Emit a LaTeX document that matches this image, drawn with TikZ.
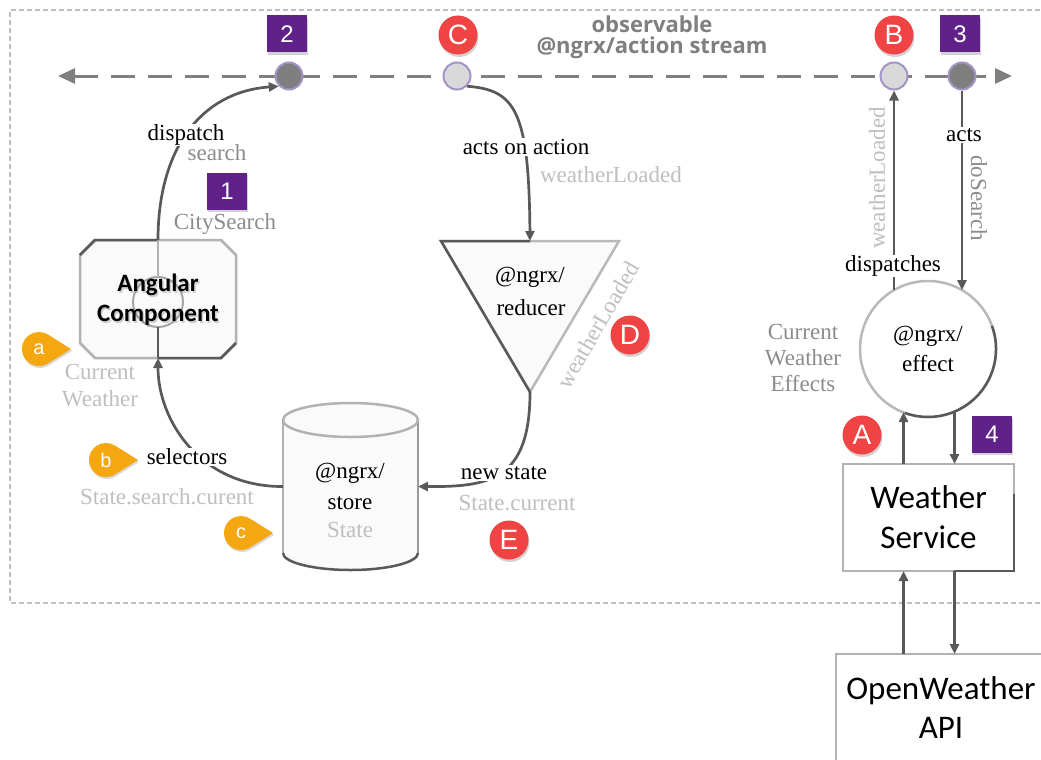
\documentclass[tikz,border=0pt]{standalone}
\usepackage{fontspec}
\setmainfont{Liberation Serif}
\newfontfamily\carlito{Carlito}
\newfontfamily\osans{Open Sans}
\newfontfamily\asans{Liberation Sans}
\usetikzlibrary{arrows.meta,shadows,calc}
\definecolor{purp}{HTML}{61218A}
\definecolor{redb}{HTML}{F04343}
\definecolor{yel}{HTML}{F4A70F}
\definecolor{ln}{HTML}{595959}
\definecolor{strm}{HTML}{7F7F7F}
\definecolor{lg}{HTML}{BFBFBF}
\definecolor{mg}{HTML}{8C8C8C}
\definecolor{ring}{HTML}{A393C6}
\definecolor{evlight}{HTML}{D9D9D9}
\definecolor{boxfill}{HTML}{FAFAFA}
\newcommand\mytear[4]{%
  \fill[yel, drop shadow={opacity=0.3,shadow xshift=1pt,shadow yshift=-2pt}] ($(#2,#3)+(56:17)$) arc[start angle=56,end angle=304,radius=17] -- (#2+32,#3) -- cycle;
  \node[font=\asans\fontsize{20}{20}\selectfont, text=white] (#1) at (#2,#3) {#4};}
\begin{document}
\begin{tikzpicture}[x=1pt,y=-1pt,
  conn/.style={draw=ln, line width=2.7pt, -{Triangle[length=10pt,width=9pt]}},
  lbl/.style={font=\fontsize{23}{27}\selectfont, inner sep=1pt},
  wlbl/.style={lbl, fill=white},
  shad/.style={drop shadow={opacity=0.35,shadow xshift=1pt,shadow yshift=-2.5pt}},
  badge/.style={fill=purp, text=white, minimum width=40pt, minimum height=37pt, inner sep=0pt, font=\asans\fontsize{24}{24}\selectfont, shad},
  redc/.style={circle, fill=redb, text=white, minimum size=39pt, inner sep=0pt, font=\asans\fontsize{28}{28}\selectfont, shad},
  evt/.style={circle, draw=ring, line width=2pt, minimum size=27pt, inner sep=0pt},
  outl/.style={draw=gray!60, line width=2.5pt, outer sep=0pt},
]
\useasboundingbox (0,0) rectangle (1041,760);
\fill[white] (0,0) rectangle (1041,760);
% outer dashed border
\draw[lg, line width=1.8pt, dash pattern=on 5pt off 3pt] (1080,10) -- (10,10) -- (10,603) -- (1080,603);
% action stream
\draw[strm, line width=3pt, dash pattern=on 24pt off 13pt, {Triangle[length=17pt,width=15pt]}-{Triangle[length=17pt,width=15pt]}] (58,76) -- (1012,76);
\node[font=\osans\bfseries\fontsize{22}{21}\selectfont, text=strm, align=center] (title) at (652,37) {observable\\@ngrx/action stream};
\node[evt, fill=strm] (s2) at (289,76) {};
\node[evt, fill=evlight] (sC) at (457,76) {};
\node[evt, fill=evlight] (sB) at (894,76) {};
\node[evt, fill=strm] (s3) at (962,76) {};

% Angular component
\node[minimum width=156pt, minimum height=118pt, inner sep=0pt, outer sep=0pt] (ang) at (158,299) {};
\filldraw[fill=boxfill, outl] ($(ang.north west)+(15,0)$) -- ($(ang.north east)+(-15,0)$) -- ($(ang.north east)+(0,15)$) -- ($(ang.south east)+(0,-15)$) -- ($(ang.south east)+(-15,0)$) -- ($(ang.south west)+(15,0)$) -- ($(ang.south west)+(0,-15)$) -- ($(ang.north west)+(0,15)$) -- cycle;
\draw[ln, line width=2.5pt] ($(ang.north west)+(0,15)$) -- ($(ang.north west)+(15,0)$) -- (ang.north);
\draw[ln, line width=2.5pt] (ang.south) -- ($(ang.south east)+(-15,0)$) -- ($(ang.south east)+(0,-15)$);
\draw[gray!70, line width=2pt] (158,302) circle[radius=25];
\draw[gray!60, line width=2.5pt] (ang.north) -- (158,277);
\draw[ln, line width=2.5pt] (158,327) -- (ang.south);
\node[font=\carlito\bfseries\fontsize{25}{30}\selectfont, align=center, text=gray, opacity=0.35] (angsh) at (159.5,302) {Angular\\Component};
\node[font=\carlito\bfseries\fontsize{25}{30}\selectfont, align=center] (angtxt) at (158,300) {Angular\\Component};

% store
\node[minimum width=135pt, minimum height=167pt, inner sep=0pt, outer sep=0pt] (store) at (350.5,486.5) {};
\fill[boxfill] (283,420) rectangle (418,553);
\fill[boxfill] (350.5,553) ellipse[x radius=67.5, y radius=17];
\draw[outl] (283,420) -- (283,553);
\draw[draw=gray!80, line width=2.5pt] (418,420) -- (418,553);
\draw[draw=ln, line width=2.5pt] (283,553) arc[start angle=180, end angle=0, x radius=67.5, y radius=17];
\filldraw[fill=boxfill, outl] (350.5,420) ellipse[x radius=67.5, y radius=17];
\node[lbl] (st1) at (350,473) {@ngrx/};
\node[lbl] (st2) at (350,503) {store};
\node[lbl, text=lg] (st3) at (350,530) {State};

% reducer
\node[minimum width=178pt, minimum height=151pt, inner sep=0pt, outer sep=0pt] (red) at (530,316.5) {};
\filldraw[fill=boxfill, draw=gray!55, line width=2.5pt] (red.north west) -- (red.north east) -- (red.south) -- cycle;
\draw[ln, line width=2.5pt] (red.south) -- (red.north west) -- (red.north);
\node[lbl] (re1) at (530,277) {@ngrx/};
\node[lbl] (re2) at (531,308) {reducer};
\node[lbl, text=lg, rotate=60] (re3) at (598,325) {weatherLoaded};

% effect and services
\node[circle, draw=gray!55, line width=2.5pt, outer sep=0pt, fill=white, minimum size=136pt, inner sep=0pt, align=center, font=\fontsize{23}{30}\selectfont] (eff) at (928,349) {@ngrx/\\effect};
\draw[ln, line width=2.5pt] ($(eff.center)+(-20:68)$) arc[start angle=-20, end angle=110, radius=68];
\node[outl, fill=white, minimum width=171pt, minimum height=107pt, align=center, font=\carlito\fontsize{33}{40}\selectfont] (ws) at (928.5,517.5) {Weather\\Service};
\node[outl, fill=white, minimum width=210pt, minimum height=108pt, align=center, font=\carlito\fontsize{33}{39}\selectfont] (ow) at (941,708) {OpenWeather\\API};
\draw[ln, line width=2.5pt] ([yshift=-30pt]ws.north east) -- (ws.south east) -- ([xshift=-60pt]ws.south east);
\coordinate (wstl) at ([xshift=-25pt]ws.north);
\coordinate (wstr) at ([xshift=26pt]ws.north);
\coordinate (wsbl) at ([xshift=-25pt]ws.south);
\coordinate (wsbr) at ([xshift=26pt]ws.south);

% connectors
\draw[conn] (ang.north) .. controls (158,150) and (200,92) .. (s2.south west);
\draw[conn] (sC.south east) .. controls (515,90) and (529,110) .. (red.north);
\draw[conn] (red.south) .. controls (530,480) and (490,487) .. (store.east);
\draw[conn] (store.west) .. controls (200,487) and (158,420) .. (ang.south);
\draw[conn] (eff.120) -- (eff.120 |- sB.south);
\draw[conn] (s3.south) -- (s3.south |- eff.60);
\draw[conn] (wstl) -- (wstl |- eff.248);
\draw[conn] (wstr |- eff.292) -- (wstr);
\draw[conn] (wsbl |- ow.north) -- (wsbl);
\draw[conn] (wsbr) -- (wsbr |- ow.north);

% labels
\node[wlbl] (l1) at (186,135) {dispatch};
\node[lbl, text=mg] (l2) at (217,153) {search};
\node[lbl, text=mg] (l3) at (225,224) {CitySearch};
\node[wlbl] (l4) at (526,147) {acts on action};
\node[lbl, text=lg] (l5) at (611,175) {weatherLoaded};
\node[lbl, text=lg, align=center] (l6) at (100,386) {Current\\Weather};
\node[wlbl] (l7) at (187,457) {selectors};
\node[lbl, text=lg] (l8) at (167,497) {State.search.curent};
\node[wlbl] (l9) at (504,473) {new state};
\node[lbl, text=lg] (l10) at (517,503) {State.current};
\node[lbl, text=mg, align=center, font=\fontsize{23}{26}\selectfont] (l11) at (803,358) {Current\\Weather\\Effects};
\node[wlbl] (l12) at (893,266) {dispatches};
\node[lbl, text=lg, rotate=90] (l13) at (877,178) {weatherLoaded};
\node[wlbl] (l14) at (964,135) {acts};
\node[lbl, text=mg, rotate=-90] (l15) at (979,198) {doSearch};

% badges
\node[badge] (b2) at (287,34) {2};
\node[badge] (b1) at (227,191) {1};
\node[badge] (b3) at (960,34) {3};
\node[badge] (b4) at (992,434) {4};
\node[redc] (rC) at (458,35) {C};
\node[redc] (rB) at (894,35) {B};
\node[redc] (rD) at (630,335) {D};
\node[redc] (rA) at (862,435) {A};
\node[redc] (rE) at (509,540) {E};
\mytear{ta}{39}{349}{a}
\mytear{tb}{106}{460}{b}
\mytear{tc}{241}{533}{c}
\end{tikzpicture}
\end{document}
